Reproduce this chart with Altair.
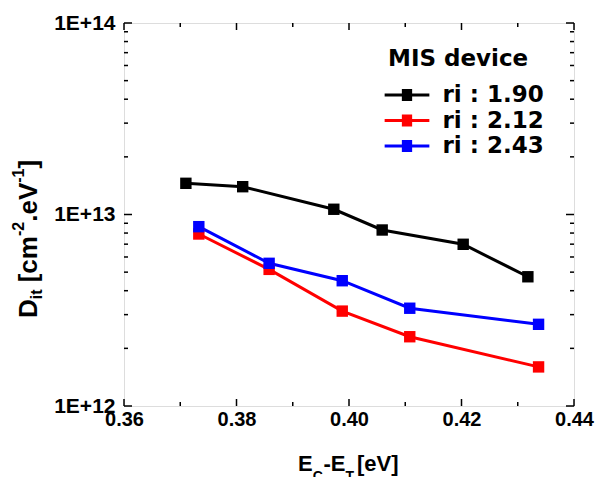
import altair as alt
import pandas as pd

# ---------------- data ----------------
ri_labels = ["ri : 1.90", "ri : 2.12", "ri : 2.43"]
x_190 = [0.3710, 0.3811, 0.3973, 0.4059, 0.4203, 0.4318]
y_190 = [1.455e13, 1.397e13, 1.065e13, 8.30e12, 6.99e12, 4.73e12]
x_212 = [0.3733, 0.3858, 0.3988, 0.4108, 0.4337]
y_212 = [7.91e12, 5.17e12, 3.13e12, 2.30e12, 1.60e12]
x_243 = [0.3733, 0.3858, 0.3988, 0.4108, 0.4337]
y_243 = [8.64e12, 5.56e12, 4.51e12, 3.24e12, 2.67e12]
colors = ["#000000", "#ff0000", "#0000ff"]

x_ticks_major = [0.36, 0.38, 0.40, 0.42, 0.44]
x_ticks_minor = [0.37, 0.39, 0.41, 0.43]
y_ticks_major = [1e12, 1e13, 1e14]
y_ticks_minor = [2e12, 3e12, 4e12, 5e12, 6e12, 7e12, 8e12, 9e12,
                 2e13, 3e13, 4e13, 5e13, 6e13, 7e13, 8e13, 9e13]

rows = []
for lab, xs, ys in zip(ri_labels, [x_190, x_212, x_243], [y_190, y_212, y_243]):
    for i, (xv, yv) in enumerate(zip(xs, ys)):
        rows.append({"E": xv, "Dit": yv, "series": lab, "order": i})
df = pd.DataFrame(rows)

W, H = 450, 383
OX, OY = 124, 23  # plot origin in page pixels

TICK_FONT = "Liberation Sans"
LEG_FONT = "DejaVu Sans"

xscale = alt.Scale(domain=[0.36, 0.44], nice=False, zero=False)
yscale = alt.Scale(type="log", domain=[1e12, 1e14], nice=False)

x_axis = alt.Axis(values=x_ticks_major, format=".2f", title=None, ticks=False,
                  domain=False, grid=False, labelFont=TICK_FONT, labelFontSize=20,
                  labelFontWeight="bold", labelColor="black", labelPadding=3,
                  labelFlush=False, labelOverlap=False)
y_axis = alt.Axis(values=y_ticks_major,
                  labelExpr="'1E+' + round(log(datum.value) / LN10)",
                  title=None, ticks=False, domain=False, grid=False,
                  labelFont=TICK_FONT, labelFontSize=21, labelFontWeight="bold",
                  labelColor="black", labelPadding=9, labelOverlap=False, labelFlush=False)

legend_path = ("M-2,0L2,0"
               "M-0.46,-0.4L0.46,-0.4M-0.46,-0.2L0.46,-0.2M-0.46,0L0.46,0"
               "M-0.46,0.2L0.46,0.2M-0.46,0.4L0.46,0.4")

lines = alt.Chart(df).mark_line(strokeWidth=3).encode(
    x=alt.X("E:Q", scale=xscale, axis=x_axis),
    y=alt.Y("Dit:Q", scale=yscale, axis=y_axis),
    color=alt.Color("series:N", sort=ri_labels,
                    scale=alt.Scale(domain=ri_labels, range=colors),
                    legend=alt.Legend(title="MIS device", orient="none",
                                      legendX=264, legendY=25, padding=0,
                                      titleFont=LEG_FONT, titleFontSize=23,
                                      titleFontWeight="bold", titleColor="black",
                                      titlePadding=11,
                                      labelFont=LEG_FONT, labelFontSize=23,
                                      labelFontWeight="bold", labelColor="black",
                                      symbolOffset=6, labelOffset=22.5, rowPadding=0.5,
                                      symbolType=legend_path, symbolSize=500,
                                      symbolStrokeWidth=3)),
    order="order:Q",
)

points = alt.Chart(df).mark_square(size=130, opacity=1).encode(
    x=alt.X("E:Q", scale=xscale, axis=x_axis),
    y=alt.Y("Dit:Q", scale=yscale, axis=y_axis),
    fill=alt.Fill("series:N", scale=alt.Scale(domain=ri_labels, range=colors), legend=None),
)


def xtick(vals, y0, y1):
    return alt.Chart(pd.DataFrame({"E": vals})).mark_rule(color="black", strokeWidth=1.5).encode(
        x=alt.X("E:Q", scale=xscale, axis=x_axis), y=alt.value(y0), y2=alt.value(y1))


def ytick(vals, x0, x1):
    return alt.Chart(pd.DataFrame({"Dit": vals})).mark_rule(color="black", strokeWidth=1.5).encode(
        y=alt.Y("Dit:Q", scale=yscale, axis=y_axis), x=alt.value(x0), x2=alt.value(x1))


ticks = [
    xtick(x_ticks_major, H, H - 7), xtick(x_ticks_minor, H, H - 4),
    xtick(x_ticks_major, 0, 7), xtick(x_ticks_minor, 0, 4),
    ytick(y_ticks_major, 0, 8), ytick(y_ticks_minor, 0, 4),
    ytick(y_ticks_major, W, W - 8), ytick(y_ticks_minor, W, W - 4),
]

one = pd.DataFrame({"k": [0]})


def piece(txt, sx, sy, size, font, angle=0):
    kw = dict(text=txt, font=font, fontSize=size, fontWeight="bold", color="black",
              align="left", baseline="alphabetic")
    if angle:
        kw["angle"] = angle
    return alt.Chart(one).mark_text(**kw).encode(x=alt.value(sx - OX), y=alt.value(sy - OY))


# y-axis title: D_it [cm^-2.eV^-1]  (rotated, reading upward)
YB = 37      # baseline x (page px)
titles = [
    piece("D", YB, 318, 26, TICK_FONT, 270),
    piece("it", YB + 5, 299.2, 16, TICK_FONT, 270),
    piece("[cm", YB, 282.3, 26, TICK_FONT, 270),
    piece("-2", YB - 13, 236, 16, TICK_FONT, 270),
    piece(".eV", YB, 221.8, 26, TICK_FONT, 270),
    piece("-1", YB - 13, 182.8, 16, TICK_FONT, 270),
    piece("]", YB, 168.6, 26, TICK_FONT, 270),
]
# x-axis title: E_C-E_T [eV]
XB = 471
titles += [
    piece("E", 298, XB, 22, TICK_FONT),
    piece("C", 312.7, XB + 10, 14, TICK_FONT),
    piece("-E", 323.5, XB, 22, TICK_FONT),
    piece("T", 345.5, XB + 10, 14, TICK_FONT),
    piece("[eV]", 357, XB, 22, TICK_FONT),
]

chart = alt.layer(lines, points, *ticks, *titles).resolve_scale(
    color="independent"
).properties(
    width=W, height=H,
    autosize=alt.AutoSizeParams(type="none"),
    padding={"left": OX, "top": OY, "right": 595 - OX - W, "bottom": 477 - OY - H},
).configure_view(stroke="black", strokeWidth=2.5).configure(background="white")

chart.save("out.html", embed_options={"renderer": "svg", "actions": False})
